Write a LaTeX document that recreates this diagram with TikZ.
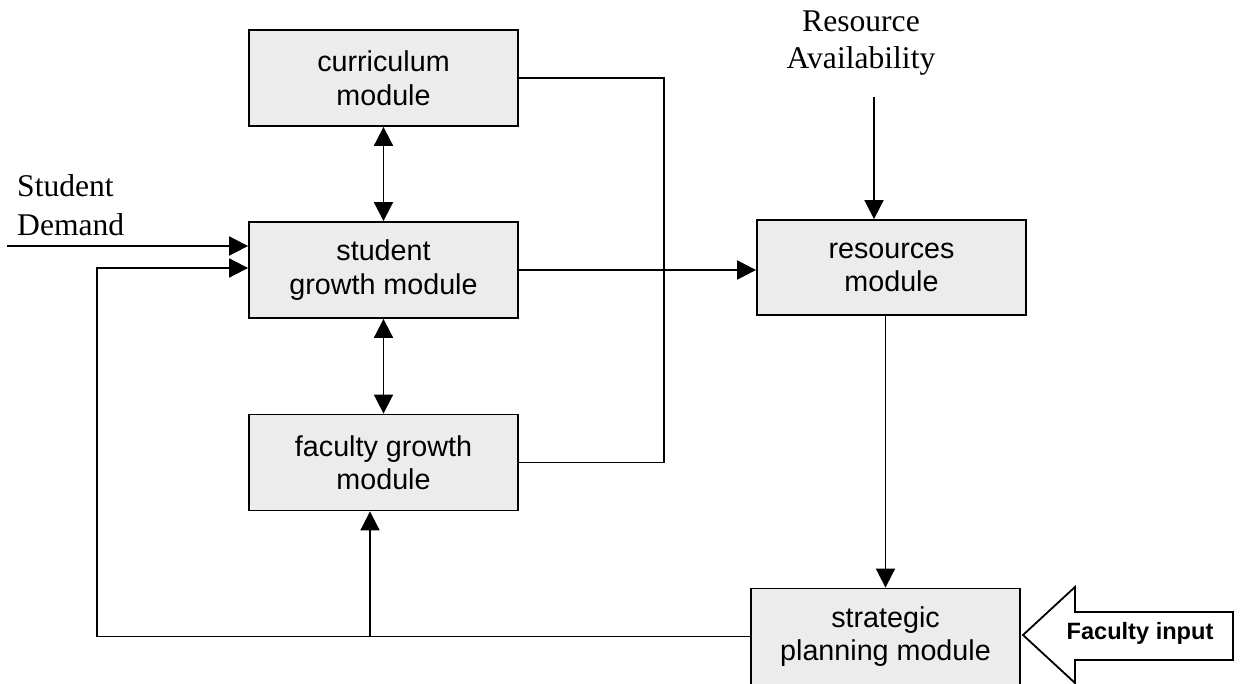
\documentclass[tikz,border=0pt]{standalone}
\usepackage{fontspec}
\setmainfont{Liberation Serif}
\setsansfont{Liberation Sans}
\usetikzlibrary{arrows.meta,calc}
\definecolor{boxgray}{RGB}{236,236,236}
\begin{document}
\begin{tikzpicture}[x=1pt,y=-1pt,
  module/.style={draw, line width=1.8pt, fill=boxgray, minimum width=269pt, minimum height=96pt, inner sep=0pt, align=center, font=\sffamily\fontsize{28.7}{33.5}\selectfont},
  conn/.style={line width=1.8pt},
  arr/.style={conn, -{Triangle[length=19pt,width=19pt]}},
  darr/.style={conn, {Triangle[length=19pt,width=19pt]}-{Triangle[length=19pt,width=19pt]}},
  lab/.style={font=\rmfamily\fontsize{31.6}{38.5}\selectfont, inner sep=0pt, align=left}]
\clip (0,0) rectangle (1240,684);

\node[module] (cur) at (383.5,78) {curriculum\\module};
\node[module] (stu) at (383.5,270) {student\\growth module};
\node[module] (fac) at (383.5,462.5) {faculty growth\\module};
\node[module, minimum height=95pt] (res) at (891.5,267.5) {resources\\module};
\node[module] (str) at (885.5,636.5) {strategic\\planning module};

\node[lab, anchor=west] (sd) at (17,205) {Student\\Demand};
\node[lab, align=center, font=\rmfamily\fontsize{31.6}{36.6}\selectfont] (ra) at (861,43) {Resource\\Availability};

% Faculty input arrow
\draw[line width=1.8pt, fill=white] (1023,635) -- (1075,587) -- (1075,612) -- (1233,612) -- (1233,660) -- (1075,660) -- (1075,683) -- cycle;
\node[font=\sffamily\bfseries\fontsize{23.6}{28}\selectfont, anchor=base, inner sep=0pt] (fi) at (1140,639) {Faculty input};

% connectors
\draw[conn] (cur.east) -| ($(fac.east)+(145,0)$) -- (fac.east);
\draw[arr] (stu.east) -- (stu.east -| res.west);
\draw[darr] (cur.south) -- (stu.north);
\draw[darr] (stu.south) -- (fac.north);

\coordinate (sdin) at (7,246);
\draw[arr] (sdin) -- (sdin -| stu.west);

\coordinate (fbl) at ($(stu.west)+(-151,-2)$);
\draw[arr] (str.west) -| (fbl) -- ($(stu.west)+(0,-2)$);
\coordinate (fup) at ($(fac.south)+(-13.5,0)$);
\draw[arr] (fup |- str.west) -- (fup);

\coordinate (ra0) at (874,97);
\draw[arr] (ra0) -- (ra0 |- res.north);
\draw[arr] (str.north |- res.south) -- (str.north);
\end{tikzpicture}
\end{document}
